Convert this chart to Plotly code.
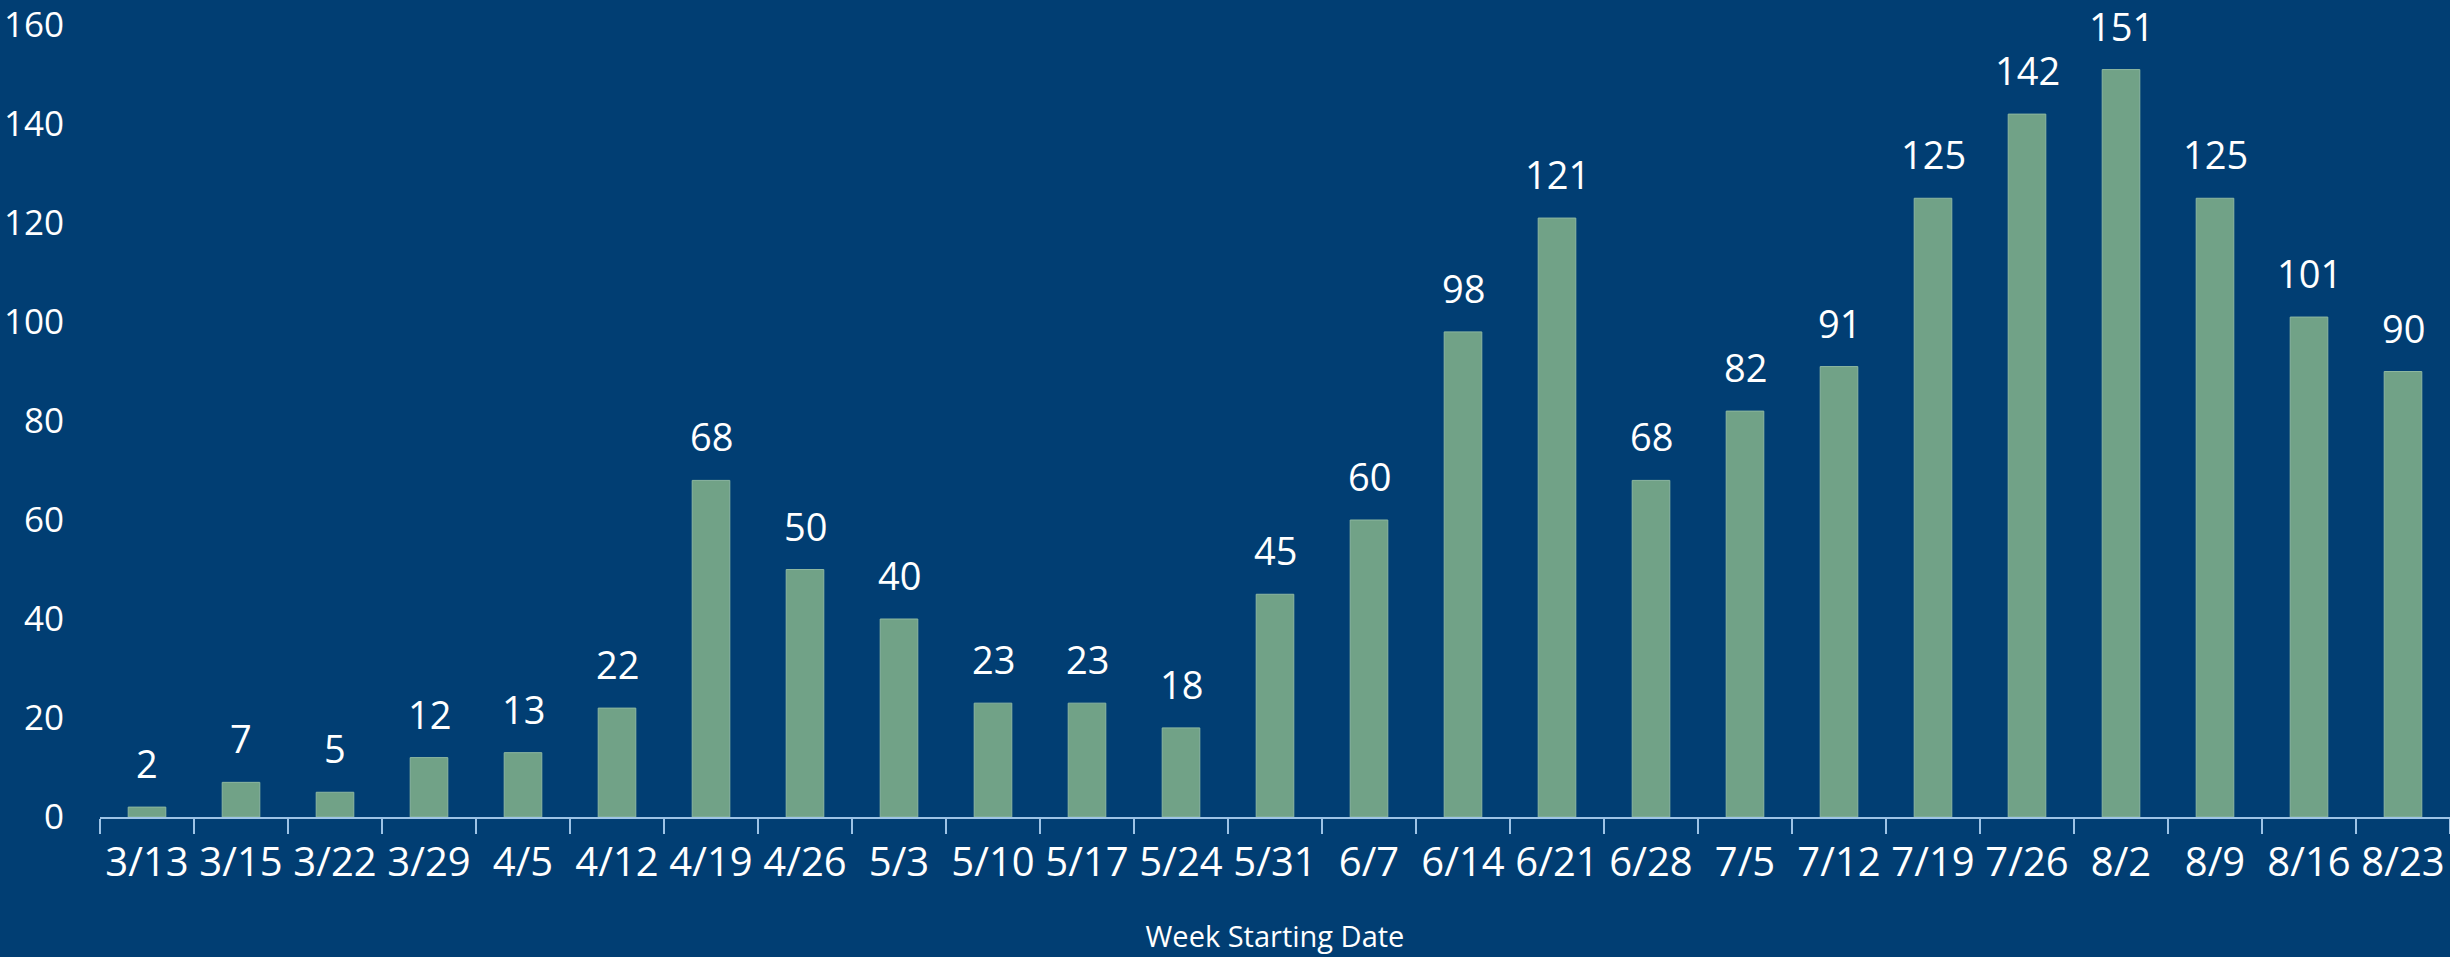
import plotly.graph_objects as go

weeks = ["3/13", "3/15", "3/22", "3/29", "4/5", "4/12", "4/19", "4/26", "5/3", "5/10",
         "5/17", "5/24", "5/31", "6/7", "6/14", "6/21", "6/28", "7/5", "7/12", "7/19",
         "7/26", "8/2", "8/9", "8/16", "8/23"]
counts = [2, 7, 5, 12, 13, 22, 68, 50, 40, 23, 23, 18, 45, 60, 98, 121, 68, 82, 91, 125,
          142, 151, 125, 101, 90]
y_ticks = [0, 20, 40, 60, 80, 100, 120, 140, 160]

BG = "#013E73"
BAR = "#71A287"
AXIS = "#9DC3E6"
FONT = "Open Sans"

fig = go.Figure()
fig.add_trace(go.Bar(
    x=weeks, y=counts,
    marker=dict(color=BAR, line=dict(color="#8DB7A0", width=1)),
    width=0.4,
    hoverinfo="x+y",
))

for w, c in zip(weeks, counts):
    fig.add_annotation(x=w, y=c, text=str(c), showarrow=False, yanchor="bottom",
                       yshift=16, font=dict(family=FONT, size=38, color="white"))

fig.update_layout(
    width=2450, height=957,
    paper_bgcolor=BG, plot_bgcolor=BG,
    margin=dict(l=100, r=0, t=17, b=140),
    showlegend=False,
    font=dict(family=FONT, color="white"),
    xaxis=dict(
        type="category",
        showline=True, linecolor=AXIS, linewidth=2,
        ticks="outside", tickcolor=AXIS, ticklen=15, tickwidth=2,
        tickson="boundaries",
        tickfont=dict(family=FONT, size=40, color="white"),
        ticklabelstandoff=9,
        title=dict(text="Week Starting Date", font=dict(family=FONT, size=29, color="white"), standoff=40),
        showgrid=False, zeroline=False,
        range=[-0.5, len(weeks) - 0.5],
    ),
    yaxis=dict(
        range=[0, 160], tickvals=y_ticks,
        showgrid=False, zeroline=False, showline=False,
        tickfont=dict(family=FONT, size=35, color="white"),
        ticklabelstandoff=35,
        ticklabeloverflow="allow",
    ),
)

fig.write_html(
    "out.html",
    config={"displayModeBar": False},
    post_script="document.body.style.margin='0';document.body.style.background='#013E73';",
)
